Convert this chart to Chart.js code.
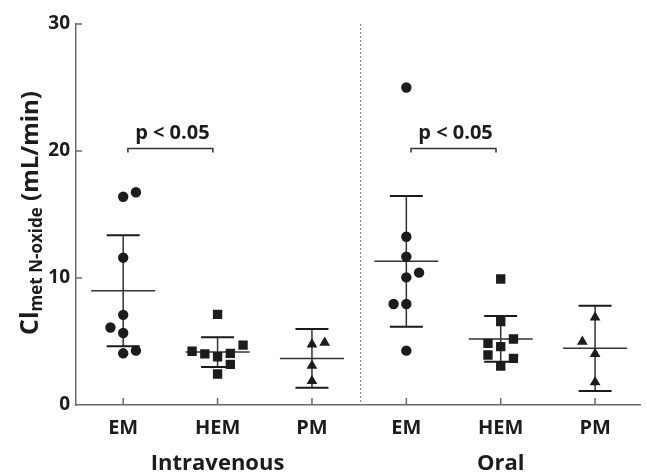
<!DOCTYPE html>
<html>
<head>
<meta charset="utf-8">
<script src="https://cdn.jsdelivr.net/npm/chart.js@4.4.0/dist/chart.umd.min.js"></script>
<style>
  html, body { margin: 0; padding: 0; background: #fff; }
</style>
</head>
<body>
<canvas id="chart" width="647" height="473"></canvas>
<script>
const groupLabels = ['EM', 'HEM', 'PM', 'EM', 'HEM', 'PM'];
const routeLabels = ['Intravenous', 'Oral'];
const routeGroups = [1, 4];

// individual clearances, mL/min
const ivEM = [16.4, 16.75, 11.6, 7.1, 6.1, 5.67, 4.07, 4.28];
const ivHEM = [7.14, 4.23, 4.02, 3.8, 4.07, 3.2, 2.44, 4.72];
const ivPM = [4.78, 4.9, 3.1, 1.89];
const oralEM = [25, 13.25, 11.68, 10.05, 10.42, 7.95, 7.95, 4.28];
const oralHEM = [9.92, 6.56, 5.2, 4.85, 4.6, 3.94, 3.67, 3.07];
const oralPM = [6.9, 4.99, 4.02, 1.79];

// side-by-side slot of each point (0 = on the centre line)
const ivEMSlot = [0, 1, 0, 0, -1, 0, 0, 1];
const ivHEMSlot = [0, -2, -1, 0, 1, 1, 0, 2];
const ivPMSlot = [0, 1, 0, 0];
const oralEMSlot = [0, 0, 0, 0, 1, -1, 0, 0];
const oralHEMSlot = [0, 0, 1, -1, 0, -1, 1, 0];
const oralPMSlot = [0, -1, 0, 0];

const groupMeans = [9.0, 4.17, 3.67, 11.31, 5.2, 4.46];
const groupSDs = [4.37, 1.17, 2.31, 5.15, 1.8, 3.35];

const sigPairs = [[0, 1], [3, 4]];
const sigLevel = 20.2;
const sigText = 'p < 0.05';

const yTicks = [0, 10, 20, 30];

const allValues = [ivEM, ivHEM, ivPM, oralEM, oralHEM, oralPM];
const allSlots = [ivEMSlot, ivHEMSlot, ivPMSlot, oralEMSlot, oralHEMSlot, oralPMSlot];
const shapes = ['circle', 'rect', 'triangle', 'circle', 'rect', 'triangle'];
const radii = [5.2, 6.6, 6.2, 5.2, 6.6, 6.2];
const slotWidth = 0.135;
const ink = '#1c1c1c';
const axisGrey = '#6a6a6a';
const FONT = '"Open Sans", sans-serif';

const datasets = allValues.map((vals, g) => ({
    data: vals.map((v, i) => ({ x: g + allSlots[g][i] * slotWidth, y: v })),
    pointStyle: shapes[g],
    pointRadius: radii[g],
    pointBackgroundColor: ink,
    pointBorderColor: ink,
    pointBorderWidth: 0
}));

const meanSdPlugin = {
    id: 'meanSd',
    beforeDatasetsDraw(chart) {
        const ctx = chart.ctx;
        const x = chart.scales.x, y = chart.scales.y;
        ctx.save();
        groupMeans.forEach((m, g) => {
            const px = x.getPixelForValue(g);
            const top = y.getPixelForValue(m + groupSDs[g]);
            const bot = y.getPixelForValue(m - groupSDs[g]);
            const pm = y.getPixelForValue(m);
            ctx.strokeStyle = '#333';
            ctx.lineWidth = 1.5;
            ctx.beginPath();
            ctx.moveTo(px, top); ctx.lineTo(px, bot);
            ctx.moveTo(px - 32, pm); ctx.lineTo(px + 32, pm);
            ctx.stroke();
            ctx.lineWidth = 2;
            ctx.strokeStyle = '#1a1a1a';
            ctx.beginPath();
            ctx.moveTo(px - 16.5, top); ctx.lineTo(px + 16.5, top);
            ctx.moveTo(px - 16.5, bot); ctx.lineTo(px + 16.5, bot);
            ctx.stroke();
        });
        ctx.restore();
    }
};

const decorPlugin = {
    id: 'decor',
    afterDraw(chart) {
        const ctx = chart.ctx;
        const x = chart.scales.x, y = chart.scales.y;
        const area = chart.chartArea;
        ctx.save();

        // inward tick marks
        ctx.strokeStyle = axisGrey;
        ctx.lineWidth = 1.5;
        ctx.beginPath();
        yTicks.slice(1).forEach(t => {
            const py = y.getPixelForValue(t);
            ctx.moveTo(area.left, py); ctx.lineTo(area.left + 6, py);
        });
        groupLabels.forEach((_, g) => {
            const px = x.getPixelForValue(g);
            ctx.moveTo(px, area.bottom); ctx.lineTo(px, area.bottom - 7);
        });
        ctx.stroke();

        // dotted separator between routes
        const sx = x.getPixelForValue(2.5) + 1.5;
        ctx.strokeStyle = '#777';
        ctx.lineWidth = 1;
        ctx.setLineDash([2, 2]);
        ctx.beginPath();
        ctx.moveTo(sx, y.getPixelForValue(30));
        ctx.lineTo(sx, area.bottom);
        ctx.stroke();
        ctx.setLineDash([]);

        // significance brackets
        ctx.strokeStyle = '#333';
        ctx.lineWidth = 1.5;
        ctx.fillStyle = ink;
        ctx.font = 'bold 20px ' + FONT;
        ctx.textAlign = 'center';
        ctx.textBaseline = 'alphabetic';
        const by = y.getPixelForValue(sigLevel);
        sigPairs.forEach(([a, b]) => {
            const x1 = x.getPixelForValue(a + 0.05);
            const x2 = x.getPixelForValue(b - 0.05);
            ctx.beginPath();
            ctx.moveTo(x1, by + 4); ctx.lineTo(x1, by); ctx.lineTo(x2, by); ctx.lineTo(x2, by + 4);
            ctx.stroke();
            ctx.fillText(sigText, (x1 + x2) / 2 + 2, by - 9);
        });

        // route names
        ctx.font = 'bold 22px ' + FONT;
        routeLabels.forEach((r, i) => {
            ctx.fillText(r, x.getPixelForValue(routeGroups[i]), 470);
        });

        // y title with subscript
        ctx.translate(38, 213);
        ctx.rotate(-Math.PI / 2);
        const parts = [
            { t: 'Cl', f: 'bold 25px ' + FONT, dy: 0 },
            { t: 'met N-oxide', f: 'bold 17px ' + FONT, dy: 4 },
            { t: ' (mL/min)', f: 'bold 24px ' + FONT, dy: 0 }
        ];
        let total = 0;
        parts.forEach(p => { ctx.font = p.f; p.w = ctx.measureText(p.t).width; total += p.w; });
        let u = -total / 2;
        ctx.textAlign = 'left';
        parts.forEach(p => {
            ctx.font = p.f;
            ctx.fillText(p.t, u, p.dy);
            u += p.w;
        });
        ctx.restore();
    }
};

new Chart(document.getElementById('chart'), {
    type: 'scatter',
    data: { datasets },
    options: {
        responsive: false,
        animation: false,
        devicePixelRatio: 1,
        layout: { padding: { top: 24, right: 0, left: 0, bottom: 0 } },
        plugins: { legend: { display: false }, tooltip: { enabled: false } },
        scales: {
            x: {
                type: 'linear',
                min: -0.5,
                max: 5.48,
                afterBuildTicks: s => { s.ticks = groupLabels.map((_, i) => ({ value: i })); },
                afterFit: s => { s.height = 68; },
                grid: { display: false, drawTicks: false },
                border: { display: true, color: axisGrey, width: 1.5 },
                ticks: {
                    callback: v => groupLabels[v],
                    font: { family: FONT, size: 20, weight: 'bold' },
                    color: ink,
                    padding: 11,
                    maxRotation: 0
                }
            },
            y: {
                min: 0,
                max: 30,
                afterBuildTicks: s => { s.ticks = yTicks.map(v => ({ value: v })); },
                afterFit: s => { s.width = 76; },
                grid: { display: false, drawTicks: false },
                border: { display: true, color: axisGrey, width: 1.5 },
                ticks: {
                    font: { family: FONT, size: 19, weight: 'bold' },
                    color: ink,
                    padding: 6
                }
            }
        }
    },
    plugins: [meanSdPlugin, decorPlugin]
});
</script>
</body>
</html>
